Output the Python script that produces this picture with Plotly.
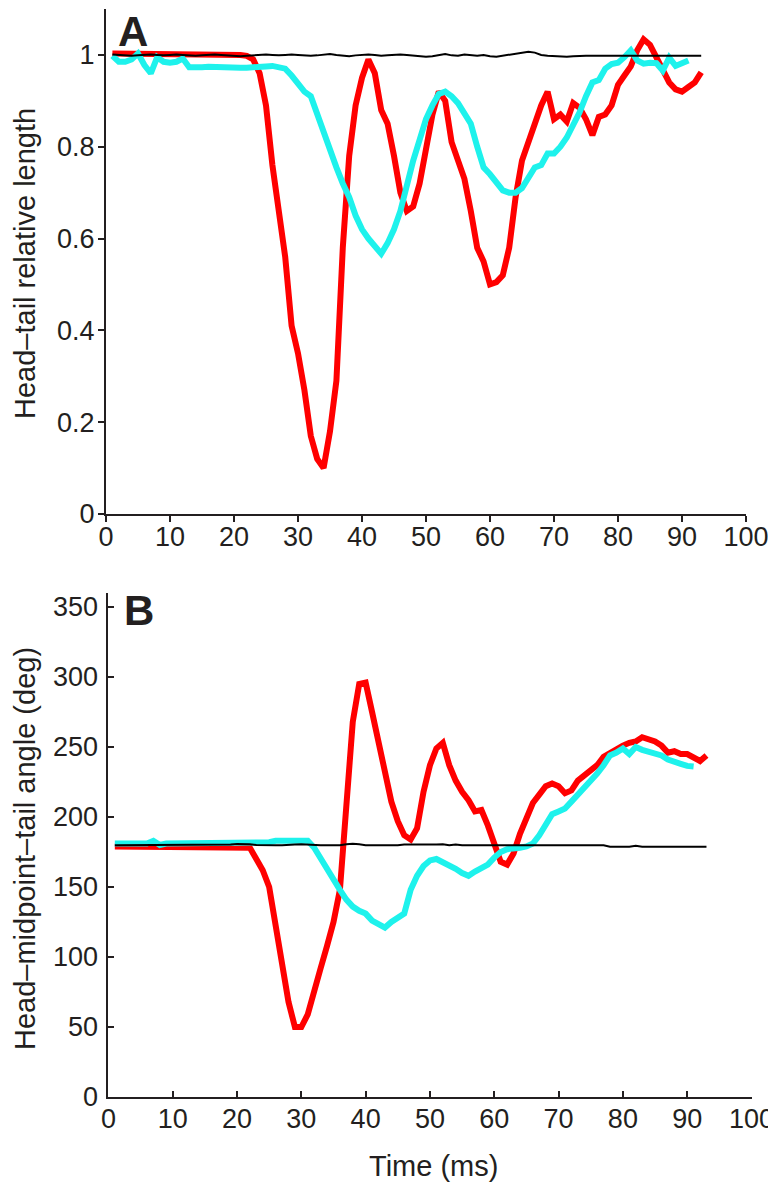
import plotly.graph_objects as go

# ---------------- data ----------------
time_red_a = list(range(1, 94))
red_a = [1.003]*20 + [1.0, 0.998, 0.99, 0.96, 0.89, 0.76, 0.67, 0.56, 0.41, 0.35,
         0.27, 0.17, 0.12, 0.10, 0.18, 0.29, 0.58, 0.78, 0.89, 0.95,
         0.99, 0.96, 0.88, 0.85, 0.78, 0.70, 0.66, 0.67, 0.72, 0.80,
         0.87, 0.92, 0.90, 0.81, 0.77, 0.73, 0.66, 0.58, 0.55, 0.50,
         0.505, 0.52, 0.58, 0.69, 0.77, 0.81, 0.85, 0.89, 0.92, 0.86,
         0.87, 0.855, 0.895, 0.885, 0.86, 0.825, 0.865, 0.87, 0.89, 0.935,
         0.955, 0.975, 1.01, 1.034, 1.022, 0.995, 0.97, 0.94, 0.925, 0.92,
         0.93, 0.94, 0.962]

time_cyan_a = list(range(1, 92))
cyan_a = [0.998, 0.985, 0.985, 0.99, 1.003, 0.978, 0.96, 0.995, 0.985, 0.983,
          0.985, 0.992, 0.973, 0.972, 0.973, 0.974, 0.973, 0.973, 0.972, 0.972,
          0.972, 0.972, 0.972, 0.972, 0.975, 0.976, 0.974, 0.970, 0.955, 0.935,
          0.92, 0.91, 0.87, 0.83, 0.79, 0.755, 0.72, 0.69, 0.65, 0.62,
          0.60, 0.585, 0.567, 0.59, 0.62, 0.66, 0.72, 0.77, 0.815, 0.86,
          0.89, 0.915, 0.92, 0.91, 0.895, 0.87, 0.85, 0.80, 0.755, 0.74,
          0.72, 0.705, 0.70, 0.70, 0.71, 0.73, 0.755, 0.76, 0.785, 0.785,
          0.80, 0.82, 0.845, 0.875, 0.91, 0.94, 0.945, 0.97, 0.98, 0.983,
          0.995, 1.01, 0.988, 0.981, 0.983, 0.982, 0.966, 0.994, 0.976, 0.983,
          0.988]

time_black_a = list(range(1, 94))
black_a = [1.001, 1.0, 0.999, 0.998, 0.999, 1.0, 1.001, 1.0, 0.999, 1.0,
           1.001, 1.0, 0.999, 0.998, 0.999, 1.0, 1.001, 1.0, 0.999, 0.998,
           0.997, 0.998, 0.999, 1.0, 1.001, 1.0, 0.999, 1.0, 1.001, 1.0,
           0.999, 0.998, 0.999, 1.001, 1.002, 1.0, 0.998, 0.997, 0.999, 1.0,
           1.001, 1.0, 0.998, 0.999, 1.0, 1.001, 1.0, 0.999, 0.997, 0.996,
           0.997, 0.999, 1.002, 0.999, 0.998, 1.001, 0.999, 0.998, 1.0, 0.997,
           0.996, 0.998, 1.001, 1.003, 1.005, 1.007, 1.005, 1.0, 0.998, 0.997,
           0.996, 0.996, 0.997, 0.998, 0.998, 0.998, 0.998, 0.998, 0.998, 0.998,
           0.998, 0.998, 0.998, 0.998, 0.998, 0.998, 0.998, 0.998, 0.998, 0.998,
           0.998, 0.998, 0.998]

time_red_b = list(range(1, 94))
red_b = [179]*21 + [178, 170, 162, 150, 124, 97, 68, 50, 50,
         59, 77, 92, 108, 125, 148, 212, 268, 295, 296,
         275, 255, 231, 211, 197, 187, 184, 192, 218, 237,
         249, 253, 237, 226, 218, 212, 204, 205, 194, 180,
         168, 166, 174, 188, 200, 210, 216, 222, 224, 222,
         217, 219, 226, 230, 234, 237, 243, 246, 248, 251,
         253, 254, 257, 256, 254, 251, 246, 247, 245, 245,
         243, 240, 244]

time_cyan_b = list(range(1, 92))
cyan_b = [181, 181, 181, 181, 181, 181, 183, 180, 181, 181,
          181, 181, 181, 181, 181, 181, 181, 181, 181, 181,
          181, 181, 181, 182, 182, 183, 183, 183, 184, 184,
          183, 178, 170, 162, 155, 148, 141, 136, 133, 131,
          126, 123, 121, 125, 128, 131, 148, 158, 165, 169,
          170, 168, 165, 163, 160, 158, 161, 164, 166, 171,
          175, 177, 177, 178, 179, 181, 187, 195, 202, 204,
          206, 211, 216, 220, 225, 231, 237, 244, 246, 249,
          245, 250, 248, 247, 246, 244, 241, 240, 238, 236.5,
          236]

time_black_b = list(range(1, 94))
black_b = [179.8]*18 + [180.3, 180.8, 180.8, 180.5, 180.0, 179.8, 179.8, 179.8, 179.8, 179.8,
           180.3, 180.6, 180.3, 179.8, 179.8, 179.8, 179.8, 179.8, 180.5, 180.9,
           180.5, 179.8, 179.8, 179.8, 179.5, 179.5, 179.8, 180.3, 180.3, 179.8,
           179.8, 179.8, 180.3, 180.5, 179.8, 180.4, 179.8, 179.8, 179.8, 179.8,
           179.8, 179.8, 179.8, 179.8, 179.8, 179.8, 179.8, 179.8, 179.8, 179.8,
           179.8, 179.8, 179.8, 179.8, 179.8, 179.8, 179.8, 179.8, 179.8, 178.7,
           178.7, 178.7, 178.7, 179.4, 178.7, 178.7, 178.7, 178.7, 178.7, 178.7,
           178.7, 178.7, 178.7, 178.7, 178.7]

x_ticks = [0, 10, 20, 30, 40, 50, 60, 70, 80, 90, 100]
ya_ticks = [0, 0.2, 0.4, 0.6, 0.8, 1.0]
ya_ticktext = ["0", "0.2", "0.4", "0.6", "0.8", "1"]
yb_ticks = [0, 50, 100, 150, 200, 250, 300, 350]

title_a = "Head\u2013tail relative length"
title_b = "Head\u2013midpoint\u2013tail angle (deg)"
title_x = "Time (ms)"

# ---------------- figure ----------------
RED = "#ff0000"
CYAN = "#1ef2ec"
INK = "#231f20"
FONT = "Liberation Sans, Arial, sans-serif"

fig = go.Figure()
fig.add_trace(go.Scatter(x=time_red_a, y=red_a, mode="lines", line=dict(color=RED, width=6),
                         xaxis="x", yaxis="y"))
fig.add_trace(go.Scatter(x=time_cyan_a, y=cyan_a, mode="lines", line=dict(color=CYAN, width=6),
                         xaxis="x", yaxis="y"))
fig.add_trace(go.Scatter(x=time_black_a, y=black_a, mode="lines", line=dict(color="#000000", width=2),
                         xaxis="x", yaxis="y"))
fig.add_trace(go.Scatter(x=time_red_b, y=red_b, mode="lines", line=dict(color=RED, width=6),
                         xaxis="x2", yaxis="y2"))
fig.add_trace(go.Scatter(x=time_cyan_b, y=cyan_b, mode="lines", line=dict(color=CYAN, width=6),
                         xaxis="x2", yaxis="y2"))
fig.add_trace(go.Scatter(x=time_black_b, y=black_b, mode="lines", line=dict(color="#000000", width=2),
                         xaxis="x2", yaxis="y2"))

OFF = 8  # page body margin
W, H = 776 - OFF, 1184 - OFF
ML, MR, MT, MB = 106 - OFF, 24, 9 - OFF, 87
PW, PH = W - ML - MR, H - MT - MB


def px(x):  # page pixel -> paper fraction
    return (x - OFF - ML) / PW


def py(y):
    return (H - MB - (y - OFF)) / PH


def axis_common(standoff):
    return dict(showline=True, linecolor=INK, linewidth=2, showgrid=False, zeroline=False,
                tickcolor=INK, tickwidth=2, ticklen=6, ticklabelstandoff=standoff,
                tickfont=dict(family=FONT, size=27, color=INK))


fig.update_layout(
    width=W, height=H,
    margin=dict(l=ML, r=MR, t=MT, b=MB, autoexpand=False),
    paper_bgcolor="white", plot_bgcolor="white",
    showlegend=False,
    xaxis=dict(domain=[px(106), px(746)], range=[0, 100], anchor="y", tickvals=x_ticks,
               ticks="outside", **axis_common(-8)),
    yaxis=dict(domain=[py(514), py(9)], range=[0, 1.1], anchor="x", tickvals=ya_ticks,
               ticktext=ya_ticktext, ticks="outside", **axis_common(-2)),
    xaxis2=dict(domain=[px(108.4), px(751.5)], range=[0, 100], anchor="y2", tickvals=x_ticks,
                ticks="inside", **axis_common(-3)),
    yaxis2=dict(domain=[py(1097), py(593)], range=[0, 360], anchor="x2", tickvals=yb_ticks,
                ticks="inside", **axis_common(3)),
)

annots = [
    dict(text="<b>A</b>", x=px(133), y=py(32), font=dict(size=42, family=FONT, color=INK)),
    dict(text="<b>B</b>", x=px(139), y=py(610), font=dict(size=42, family=FONT, color=INK)),
    dict(text=title_a, x=px(25), y=py(264), textangle=-90, font=dict(size=29, family=FONT, color=INK)),
    dict(text=title_b, x=px(25), y=py(849), textangle=-90, font=dict(size=29, family=FONT, color=INK)),
    dict(text=title_x, x=px(433), y=py(1166), font=dict(size=29, family=FONT, color=INK)),
]
for a in annots:
    fig.add_annotation(xref="paper", yref="paper", showarrow=False,
                       xanchor="center", yanchor="middle", **a)

fig.write_html("out.html")
